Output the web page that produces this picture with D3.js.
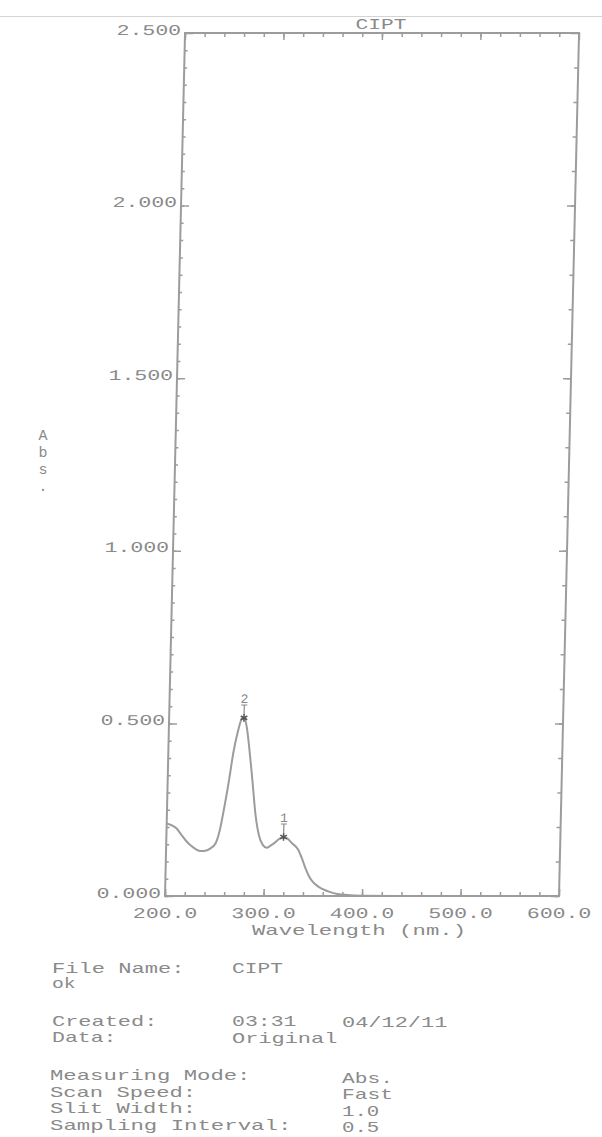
<!DOCTYPE html>
<html>
<head>
<meta charset="utf-8">
<script src="https://d3js.org/d3.v7.min.js"></script>
<style>
  body { margin:0; background:#fff; }
  text { font-family:"Liberation Mono", "DejaVu Sans Mono", monospace; fill:#8a8a8a; }
</style>
</head>
<body>
<svg id="chart" width="602" height="1137"></svg>
<script>
// spectrum
var wavelength = [200,205,210,215,220,225,230,235,240,245,250,254,258,262,266,270,274,276,279,282,286,290,294,298,302,306,310,315,319,323,328,334,338,342,346,350,355,360,367,375,385,400,450,500,550,600];
var absorbance = [0.210,0.205,0.196,0.178,0.160,0.146,0.136,0.130,0.131,0.138,0.152,0.190,0.255,0.330,0.415,0.475,0.514,0.516,0.490,0.430,0.335,0.235,0.175,0.148,0.140,0.146,0.154,0.166,0.171,0.166,0.152,0.135,0.110,0.080,0.056,0.040,0.028,0.020,0.012,0.006,0.003,0.001,0,0,0,0];

var peakNo = ["1","2"];
var peakWl = [319, 276];
var peakAbs = [0.171, 0.516];

var xTicks = [200,300,400,500,600];
var yTicks = [0,0.5,1,1.5,2,2.5];

var title = "CIPT";
var xTitle = "Wavelength (nm.)";
var yTitle = ["A","b","s","."];

var infoLabels = ["File Name:","ok","Created:","Data:","Measuring Mode:","Scan Speed:","Slit Width:","Sampling Interval:"];
var infoValues = ["CIPT","","03:31","Original","Abs.","Fast","1.0","0.5"];
var createdDate = "04/12/11";

var gray = "#8a8a8a", lineGray = "#9c9c9c";
var CH = 13.6; // printer character pitch
var FS = 15;

// stretch glyphs to the wide printer pitch
function fit(sel) {
  sel.attr("textLength", function() { var n = this.textContent.length; return n * CH - 3.5; })
     .attr("lengthAdjust", "spacingAndGlyphs");
}

var svg = d3.select("#chart");
svg.append("rect").attr("width",602).attr("height",1137).attr("fill","#fff");
// scan edge line
svg.append("line").attr("x1",0).attr("x2",602).attr("y1",16.5).attr("y2",16.5)
  .attr("stroke","#d4d4d4").attr("stroke-width",1);

var x = d3.scaleLinear().domain([200,600]).range([165,559]);
var y = d3.scaleLinear().domain([0,2.5]).range([0,-863]);

// the printout is slightly tilted
var g = svg.append("g").attr("transform","translate(0,896) skewX(-1.33)");

// frame
g.append("rect")
  .attr("x", x(200)).attr("y", y(2.5))
  .attr("width", x(600)-x(200)).attr("height", y(0)-y(2.5))
  .attr("fill","none").attr("stroke",lineGray).attr("stroke-width",2);

function styleAxis(a) {
  a.select(".domain").remove();
  a.selectAll("line").attr("stroke",lineGray).attr("stroke-width",1.5);
}

// minor ticks
g.append("g").attr("transform","translate("+x(200)+",0)")
  .call(d3.axisLeft(y).tickValues(d3.range(0,2.5,0.05)).tickSize(-3).tickFormat(""))
  .call(styleAxis);
g.append("g").attr("transform","translate("+x(600)+",0)")
  .call(d3.axisRight(y).tickValues(d3.range(0,2.5,0.1)).tickSize(-4).tickFormat(""))
  .call(styleAxis);
g.append("g").attr("transform","translate(0,"+y(0)+")")
  .call(d3.axisBottom(x).tickValues(d3.range(200,600,20)).tickSize(-4).tickFormat(""))
  .call(styleAxis);
g.append("g").attr("transform","translate(0,"+y(2.5)+")")
  .call(d3.axisTop(x).tickValues(d3.range(200,600,20)).tickSize(-4).tickFormat(""))
  .call(styleAxis);

// major ticks + labels
var yAx = g.append("g").attr("transform","translate("+x(200)+",0)")
  .call(d3.axisLeft(y).tickValues(yTicks).tickSize(-8).tickPadding(4).tickFormat(d3.format(".3f")))
  .call(styleAxis);
yAx.selectAll("text").attr("dy", 1).attr("font-size", FS).attr("fill", gray).call(fit);

g.append("g").attr("transform","translate("+x(600)+",0)")
  .call(d3.axisRight(y).tickValues(yTicks).tickSize(-8).tickFormat(""))
  .call(styleAxis);

var xAx = g.append("g").attr("transform","translate(0,"+y(0)+")")
  .call(d3.axisBottom(x).tickValues(xTicks).tickSize(-7).tickPadding(11).tickFormat(d3.format(".1f")))
  .call(styleAxis);
xAx.selectAll("text").attr("font-size", FS).attr("fill", gray).call(fit);

g.append("g").attr("transform","translate(0,"+y(2.5)+")")
  .call(d3.axisTop(x).tickValues(xTicks).tickSize(-7).tickFormat(""))
  .call(styleAxis);

// spectrum
var pts = wavelength.map(function(w,i){ return [w, absorbance[i]]; });
g.append("path").datum(pts)
  .attr("fill","none").attr("stroke",lineGray).attr("stroke-width",2)
  .attr("d", d3.line().x(function(d){return x(d[0]);}).y(function(d){return y(d[1]);}).curve(d3.curveMonotoneX));

// peak picks
var pk = g.selectAll(".peak").data(peakNo).enter().append("g")
  .attr("transform", function(d,i){ return "translate("+x(peakWl[i])+","+y(peakAbs[i])+")"; });
pk.append("text").attr("y",-15).attr("text-anchor","middle").attr("font-size",13).text(function(d){return d;});
pk.append("line").attr("x1",-3).attr("x2",3).attr("y1",-13).attr("y2",-13).attr("stroke",gray);
pk.append("line").attr("x1",0).attr("x2",0).attr("y1",-13).attr("y2",-3).attr("stroke",gray).attr("stroke-width",1.2);
pk.append("path").attr("d", d3.symbol().type(d3.symbolAsterisk || d3.symbolTimes).size(40))
  .attr("fill","none").attr("stroke","#555").attr("stroke-width",1.5);

// titles
svg.append("text").attr("x",381).attr("y",29).attr("text-anchor","middle")
  .attr("font-size",FS).text(title).call(fit);
svg.append("text").attr("x",359).attr("y",935).attr("text-anchor","middle")
  .attr("font-size",FS).text(xTitle).call(fit);
svg.selectAll(".ytl").data(yTitle).enter().append("text")
  .attr("x",43).attr("y",function(d,i){ return 440 + i*17; })
  .attr("text-anchor","middle").attr("font-size",15).text(function(d){return d;});

// info block
var rowY = [973,988,1026,1042,1080,1097,1113,1130];
var valDy = [0,0,0,1,3,2,3,2];
svg.selectAll(".lab").data(infoLabels).enter().append("text")
  .attr("x", function(d,i){ return i < 4 ? 52 : 50; })
  .attr("y", function(d,i){ return rowY[i]; })
  .attr("font-size",FS).text(function(d){return d;}).call(fit);
svg.selectAll(".val").data(infoValues).enter().append("text")
  .attr("x", function(d,i){ return i < 4 ? 232 : 342; })
  .attr("y", function(d,i){ return rowY[i] + valDy[i]; })
  .attr("font-size",FS).text(function(d){return d;})
  .each(function(){ if (this.textContent.length) d3.select(this).call(fit); });
svg.append("text").attr("x",342).attr("y",1027).attr("font-size",FS).text(createdDate).call(fit);
</script>
</body>
</html>
